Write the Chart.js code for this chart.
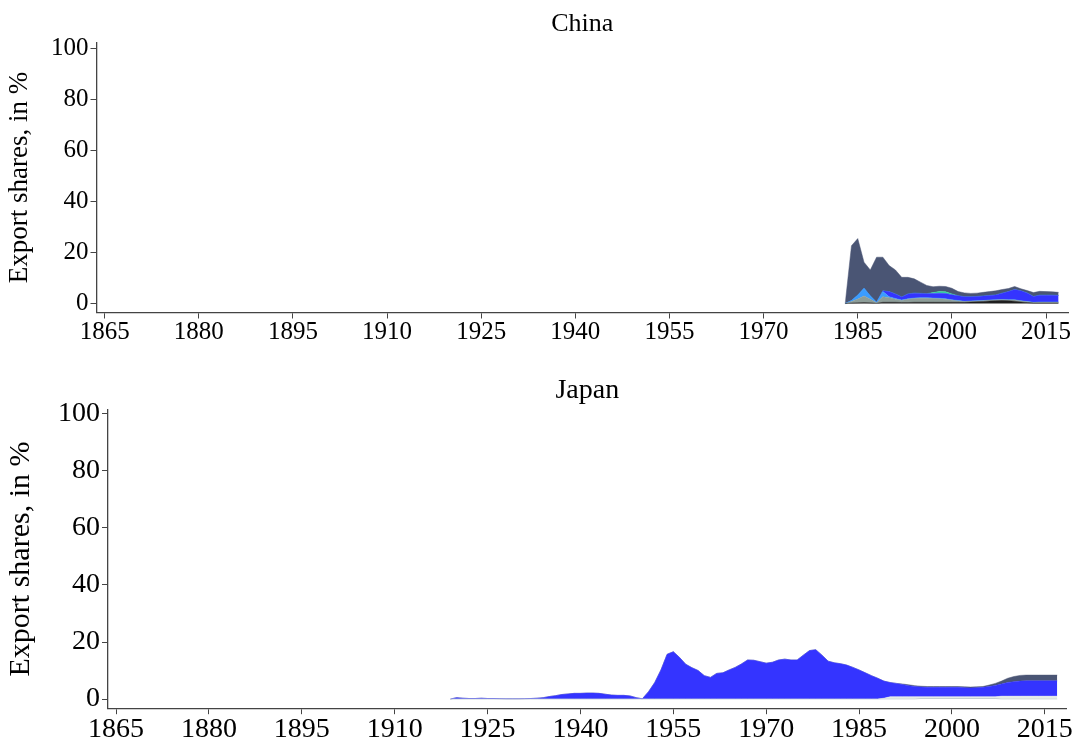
<!DOCTYPE html>
<html lang="en">
<head>
    <meta charset="UTF-8">
    <title>Export shares</title>
    <script src="https://cdn.jsdelivr.net/npm/chart.js"></script>
    <style>
        html, body {
            margin: 0;
            padding: 0;
            background: #fff;
            overflow: hidden;
            font-family: 'Liberation Serif', serif;
        }
        .panel {
            position: absolute;
            left: 0;
            width: 1073px;
        }
        #chinaBox { top: 0; height: 352px; }
        #japanBox { top: 352px; height: 393px; }
    </style>
</head>
<body>
    <div class="panel" id="chinaBox"><canvas id="chinaChart"></canvas></div>
    <div class="panel" id="japanBox"><canvas id="japanChart"></canvas></div>

    <script>
        // x ticks and y ticks shared by both panels
        const yearTicks = [1865, 1880, 1895, 1910, 1925, 1940, 1955, 1970, 1985, 2000, 2015];
        const shareTicks = [0, 20, 40, 60, 80, 100];

        // China, 1983-2017 (stacked layers, bottom to top)
        const chinaYears = Array.from({ length: 35 }, (_, i) => 1983 + i);
        const chinaBlack = [0, 0.2, 0.3, 0.4, 0.3, 0.1, 0.5, 0.5, 0.5, 0.4, 0.4, 0.5, 0.5, 0.5, 0.5, 0.5, 0.5, 0.5, 0.5, 0.5,
            0.6, 0.7, 0.8, 1.0, 1.1, 1.2, 1.1, 0.9, 0.6, 0.4, 0.2, 0.2, 0.2, 0.2, 0.2];
        const chinaGray = [0, 0.6, 1.5, 2.6, 1.4, 0.2, 2.2, 1.8, 1.2, 0.8, 1.3, 1.5, 1.6, 1.6, 1.5, 1.4, 1.2, 0.8, 0.5, 0.3,
            0.3, 0.3, 0.3, 0.3, 0.3, 0.3, 0.3, 0.5, 0.4, 0.3, 0.2, 0.3, 0.3, 0.3, 0.3];
        const chinaLightBlue = [0, 0.4, 1.5, 3.0, 1.3, 0.2, 2.0, 0.4, 0.3, 0.2, 0.2, 0.2, 0.2, 0.2, 0.2, 0.2, 0.2, 0.2, 0.2, 0.1,
            0.1, 0.1, 0.1, 0.1, 0.1, 0.1, 0.1, 0.1, 0.1, 0.1, 0.1, 0.1, 0.1, 0.1, 0.1];
        const chinaBlue = [0, 0, 0, 0, 0, 0, 0.3, 2.0, 1.8, 1.2, 1.9, 1.9, 1.7, 1.6, 1.8, 2.0, 2.1, 2.0, 1.9, 1.8,
            1.7, 1.7, 1.8, 1.8, 1.9, 2.5, 3.2, 4.0, 3.9, 3.4, 2.3, 2.7, 2.7, 2.7, 2.6];
        const chinaGreen = [0, 0, 0, 0, 0, 0, 0, 0, 0, 0, 0, 0, 0, 0, 0.3, 0.6, 0.6, 0.3, 0, 0,
            0, 0, 0, 0, 0, 0, 0, 0, 0, 0, 0, 0, 0, 0, 0];
        const chinaSlate = [0, 21.5, 22.2, 10.2, 10.2, 17.7, 13.2, 10.2, 9.4, 7.7, 6.5, 5.6, 4.4, 3.2, 2.3, 2.1, 2.1, 2.2, 1.6, 1.5,
            1.3, 1.3, 1.4, 1.5, 1.6, 1.4, 1.2, 1.2, 0.8, 0.9, 1.5, 1.5, 1.4, 1.3, 1.2];

        // Japan, 1919-2017 (stacked layers, bottom to top)
        const japanYears = Array.from({ length: 99 }, (_, i) => 1919 + i);
        const japanGrayBlue = [
            0, 0, 0, 0, 0, 0, 0, 0, 0, 0, 0, 0, 0, 0, 0, 0, 0, 0, 0, 0,
            0, 0, 0, 0, 0, 0, 0, 0, 0, 0, 0, 0, 0, 0, 0, 0, 0, 0, 0, 0,
            0, 0, 0, 0, 0, 0, 0, 0, 0, 0, 0, 0, 0, 0, 0, 0, 0, 0, 0, 0,
            0, 0, 0, 0, 0, 0, 0, 0, 0, 0, 0, 0, 0, 0, 0, 0,
            0.2, 0.2, 0.2, 0.2, 0.2, 0.2, 0.2, 0.2, 0.2, 0.2, 0.2, 0.2, 0.2,
            0, 0, 0, 0, 0, 0, 0, 0, 0, 0];
        const japanPale = [
            0, 0, 0, 0, 0, 0, 0, 0, 0, 0, 0, 0, 0, 0, 0, 0, 0, 0, 0, 0,
            0, 0, 0, 0, 0, 0, 0, 0, 0, 0, 0, 0, 0, 0, 0, 0, 0, 0, 0, 0,
            0, 0, 0, 0, 0, 0, 0, 0, 0, 0, 0, 0, 0, 0, 0, 0, 0, 0, 0, 0,
            0, 0, 0, 0, 0, 0, 0, 0, 0, 0,
            0.3, 0.8, 0.8, 0.8, 0.8, 0.8,
            0.6, 0.6, 0.6, 0.6, 0.6, 0.6, 0.6, 0.6, 0.6, 0.6, 0.6, 0.6, 0.6,
            1.0, 1.0, 1.0, 1.0, 1.0, 1.0, 1.0, 1.0, 1.0, 1.0];
        const japanBlue = [
            0, 0.5, 0.3, 0.2, 0.2, 0.3, 0.2, 0.2, 0.15, 0.1, 0.1, 0.1, 0.15, 0.2, 0.3, 0.5, 0.9, 1.2, 1.6, 1.8,
            2.0, 2.0, 2.1, 2.1, 2.0, 1.7, 1.4, 1.3, 1.3, 1.1, 0.5, 0.1, 2.6, 5.8, 10.2, 15.7, 16.6, 14.6, 12.2, 11.0,
            10.0, 8.2, 7.6, 9.0, 9.2, 10.2, 11.1, 12.3, 13.7, 13.6, 13.1, 12.6, 12.9, 13.7, 14.0, 13.7, 13.7, 15.4, 17.0, 17.3,
            15.4, 13.3, 12.7, 12.4, 11.9, 11.1, 10.2, 9.2, 8.2, 7.3,
            6.0, 5.0, 4.7, 4.3, 3.9, 3.6,
            3.4, 3.3, 3.3, 3.3, 3.3, 3.3, 3.3, 3.2, 3.1, 3.2, 3.3, 3.6, 4.0,
            4.3, 4.8, 5.1, 5.3, 5.4, 5.4, 5.4, 5.4, 5.4, 5.4];
        const japanSlate = [
            0, 0, 0, 0, 0, 0, 0, 0, 0, 0, 0, 0, 0, 0, 0, 0, 0, 0, 0, 0,
            0, 0, 0, 0, 0, 0, 0, 0, 0, 0, 0, 0, 0, 0, 0, 0, 0, 0, 0, 0,
            0, 0, 0, 0, 0, 0, 0, 0, 0, 0, 0, 0, 0, 0, 0, 0, 0, 0, 0, 0,
            0, 0, 0, 0, 0, 0, 0, 0, 0, 0,
            0, 0, 0, 0.2, 0.3, 0.3,
            0.3, 0.3, 0.3, 0.3, 0.3, 0.3, 0.3, 0.3, 0.3, 0.3, 0.3, 0.5, 0.7,
            1.0, 1.5, 1.8, 2.0, 2.0, 2.0, 2.0, 2.0, 2.0, 2.0];

        function layer(years, values, color, first) {
            return {
                data: years.map((y, i) => ({ x: y, y: values[i] })),
                backgroundColor: color,
                borderColor: color,
                borderWidth: 0.5,
                pointRadius: 0,
                tension: 0,
                fill: first ? 'origin' : '-1'
            };
        }

        function makePanel(id, title, datasets, sz) {
            const font = { family: "'Liberation Serif', serif", size: sz.tick, lineHeight: 1.1 };
            new Chart(document.getElementById(id), {
                type: 'line',
                data: { datasets: datasets },
                options: {
                    responsive: true,
                    maintainAspectRatio: false,
                    animation: false,
                    layout: { padding: sz.pad },
                    plugins: {
                        legend: { display: false },
                        tooltip: { enabled: false },
                        title: {
                            display: true,
                            text: title,
                            fullSize: false,
                            color: '#000',
                            font: { family: "'Liberation Serif', serif", size: sz.title, weight: 'normal', lineHeight: 1.1 },
                            padding: sz.titlePad
                        }
                    },
                    scales: {
                        x: {
                            type: 'linear',
                            min: 1863.7,
                            max: 2018.5,
                            afterBuildTicks: s => { s.ticks = yearTicks.map(v => ({ value: v })); },
                            ticks: { color: '#000', font: font, padding: 0, maxRotation: 0, autoSkip: false,
                                callback: v => String(v) },
                            grid: { drawOnChartArea: false, drawTicks: true, tickLength: 6, color: '#444' },
                            border: { display: true, color: '#444', width: 1.3 }
                        },
                        y: {
                            stacked: true,
                            min: sz.ymin,
                            max: sz.ymax,
                            afterBuildTicks: s => { s.ticks = shareTicks.map(v => ({ value: v })); },
                            ticks: { color: '#000', font: font, padding: 2 },
                            grid: { drawOnChartArea: false, drawTicks: true, tickLength: 6, color: '#444' },
                            border: { display: true, color: '#444', width: 1.3 },
                            title: {
                                display: true,
                                text: 'Export shares, in %',
                                color: '#000',
                                font: { family: "'Liberation Serif', serif", size: sz.ytitle, lineHeight: 1.0 },
                                padding: { top: 0, bottom: sz.ytitleGap }
                            }
                        }
                    }
                }
            });
        }

        makePanel('chinaChart', 'China', [
            layer(chinaYears, chinaBlack, '#1f1f1f', true),
            layer(chinaYears, chinaGray, '#8d9d98'),
            layer(chinaYears, chinaLightBlue, '#3a9cff'),
            layer(chinaYears, chinaBlue, '#3434ff'),
            layer(chinaYears, chinaGreen, '#33dd99'),
            layer(chinaYears, chinaSlate, '#4a5574')
        ], { tick: 25, title: 26, ytitle: 27, ytitleGap: 16, ymin: -3.5, ymax: 102.4,
             pad: { top: 6, left: 6, right: 5, bottom: 6 }, titlePad: { top: 4, bottom: 4 } });

        makePanel('japanChart', 'Japan', [
            layer(japanYears, japanGrayBlue, '#b4c3c8', true),
            layer(japanYears, japanPale, '#e6ece8'),
            layer(japanYears, japanBlue, '#3434ff'),
            layer(japanYears, japanSlate, '#4a5574')
        ], { tick: 28, title: 28, ytitle: 30, ytitleGap: 20, ymin: -3.2, ymax: 101.4,
             pad: { top: 14, left: 6, right: 5, bottom: 0 }, titlePad: { top: 9, bottom: 4 } });
    </script>
</body>
</html>
